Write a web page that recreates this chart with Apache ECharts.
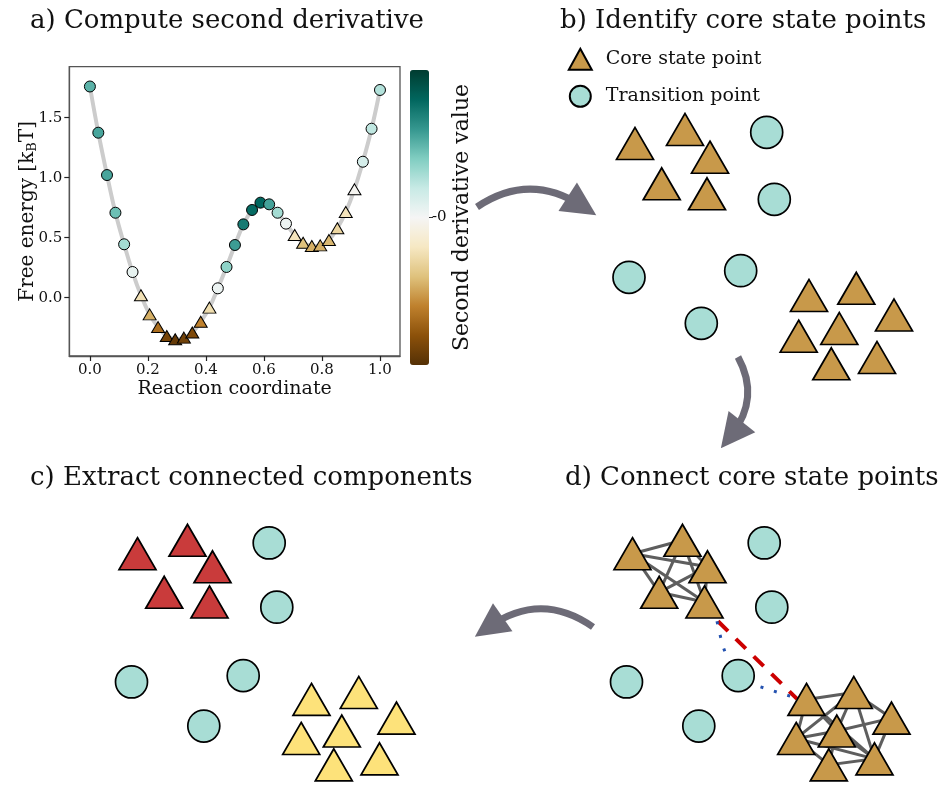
<!DOCTYPE html>
<html>
<head>
<meta charset="utf-8">
<script src="https://cdn.jsdelivr.net/npm/echarts@6/dist/echarts.min.js"></script>
<style>html,body{margin:0;padding:0;background:#fff}#c{width:946px;height:790px}</style>
</head>
<body>
<div id="c"></div>
<script>
// ---------- Panel a data ----------
const reactionCoord = [0.000,0.029,0.059,0.088,0.118,0.147,0.176,0.206,0.235,0.265,0.294,0.324,0.353,0.382,0.412,0.441,0.471,0.500,0.529,0.559,0.588,0.618,0.647,0.676,0.706,0.735,0.765,0.794,0.824,0.853,0.882,0.912,0.941,0.971,1.000];
const freeEnergy = [1.76,1.375,1.022,0.708,0.445,0.214,0.02,-0.139,-0.245,-0.319,-0.347,-0.333,-0.29,-0.2,-0.083,0.078,0.256,0.439,0.611,0.731,0.792,0.778,0.708,0.617,0.522,0.458,0.431,0.436,0.481,0.578,0.714,0.903,1.133,1.408,1.731];
const secondDeriv = [0.5,0.55,0.55,0.45,0.3,0.06,-0.24,-0.46,-0.68,-0.88,-0.94,-0.9,-0.85,-0.6,-0.26,0.04,0.36,0.58,0.72,0.78,0.8,0.56,0.3,0.04,-0.22,-0.4,-0.46,-0.46,-0.43,-0.3,-0.22,-0.02,0.14,0.22,0.26];
const xTicks = [0, 0.2, 0.4, 0.6, 0.8, 1.0];
const yTicks = [0, 0.5, 1.0, 1.5];
const BrBG = ['#543005','#8c510a','#bf812d','#dfc27d','#f6e8c3','#f5f5f5','#c7eae5','#80cdc1','#35978f','#01665e','#003c30'];

// ---------- Panels b, c, d data (schematic point positions) ----------
const corePoints = [[75,43.5],[125,29.5],[150,57.2],[101.7,83.8],[147,93.8],
  [249,195.5],[296.3,188.3],[334,215],[238.7,236.2],[279.3,228.5],[317,257.5],[271.3,263.8]];
const coreCluster = [0,0,0,0,0,1,1,1,1,1,1,1];
const clusterColors = ['#c93b3b','#fde27a'];
const transitionPoints = [[206.7,32.3],[214.3,99.3],[69,177.3],[180.7,170.7],[141.3,223.3]];
const coreEdges = [[0,1],[0,2],[0,3],[0,4],[1,2],[1,3],[1,4],[2,3],[2,4],[3,4],
  [5,6],[5,8],[5,9],[6,8],[6,10],[6,7],[6,9],[7,10],[7,9],[8,10],[8,9],[8,11],[9,10],[11,10],[9,11],[5,10]];
const directPath = [[160.5,114],[239.5,195]];
const transitionPath = [[159.5,114],[164.5,137],[167.5,146],[180.7,170.7],[195.5,180],[235.5,193]];
const arrows = [
  {from:[477,207], to:[582,206], curve:0.33},
  {from:[738,357], to:[731.4,435], curve:0.33},
  {from:[593,627], to:[488.8,627], curve:-0.35}
];

const SERIF = 'DejaVu Serif';
const chart = echarts.init(document.getElementById('c'), null, {renderer:'canvas'});

const hiddenX = (gi, max) => ({type:'value', gridIndex:gi, min:0, max:max, show:false});
const hiddenY = (gi, max) => ({type:'value', gridIndex:gi, min:0, max:max, inverse:true, show:false});

const coreStyle = {color:'#c8994a', borderColor:'#000', borderWidth:1.7, opacity:1};
const transStyle = {color:'#a8ddd5', borderColor:'#000', borderWidth:1.7, opacity:1};

const option = {
  animation:false,
  backgroundColor:'#fff',
  title:[
    {text:'a) Compute second derivative', left:30, top:8},
    {text:'b) Identify core state points', left:560, top:8},
    {text:'c) Extract connected components', left:30, top:465},
    {text:'d) Connect core state points', left:565, top:465}
  ].map(t => Object.assign(t, {padding:0, textStyle:{fontFamily:SERIF, fontSize:26, fontWeight:'normal', color:'#111'}})),
  legend:{
    data:['Core state point','Transition point'],
    orient:'vertical', left:567.8, top:47.8, padding:0,
    itemWidth:23, itemHeight:21, itemGap:14, selectedMode:false,
    textStyle:{fontFamily:SERIF, fontSize:19, color:'#111', padding:[0,0,0,9]}
  },
  grid:[
    {left:69.3, top:66.7, width:330.7, height:289.3, show:true, borderColor:'#555', borderWidth:1.3, backgroundColor:'transparent'},
    {left:410, top:70, width:19, height:295},
    {left:560, top:100, width:380, height:290},
    {left:62.5, top:512, width:380, height:290},
    {left:557.5, top:512, width:380, height:290},
    {left:0, top:0, width:946, height:790}
  ],
  xAxis:[
    {type:'value', gridIndex:0, min:-0.071, max:1.069,
     axisLine:{show:true, onZero:false, lineStyle:{color:'#555', width:1.3}}, splitLine:{show:false},
     axisTick:{show:true, customValues:xTicks, length:5, lineStyle:{color:'#222', width:1.2}},
     axisLabel:{customValues:xTicks, formatter:v=>v.toFixed(1), fontFamily:SERIF, fontSize:15, color:'#111', margin:7},
     name:'Reaction coordinate', nameLocation:'middle', nameGap:24, nameMoveOverlap:false,
     nameTextStyle:{fontFamily:SERIF, fontSize:19, color:'#111'}},
    {type:'value', gridIndex:1, min:0, max:1, show:false},
    hiddenX(2,380), hiddenX(3,380), hiddenX(4,380), hiddenX(5,946)
  ],
  yAxis:[
    {type:'value', gridIndex:0, min:-0.486, max:1.925,
     axisLine:{show:true, onZero:false, lineStyle:{color:'#555', width:1.3}}, splitLine:{show:false},
     axisTick:{show:true, customValues:yTicks, length:5, lineStyle:{color:'#222', width:1.2}},
     axisLabel:{customValues:yTicks, formatter:v=>v.toFixed(1), fontFamily:SERIF, fontSize:15, color:'#111', margin:7},
     name:'Free energy [k{sub|B}T]', nameLocation:'middle', nameGap:30, nameRotate:90, nameMoveOverlap:false,
     nameTextStyle:{fontFamily:SERIF, fontSize:20, color:'#111',
       rich:{sub:{fontFamily:SERIF, fontSize:13, color:'#111', padding:[10,0,0,0]}}}},
    {type:'value', gridIndex:1, min:-1, max:1, position:'right',
     axisLine:{show:false, onZero:false}, splitLine:{show:false},
     axisTick:{show:true, customValues:[0], length:4, lineStyle:{color:'#333'}},
     axisLabel:{customValues:[0], formatter:()=>'-0', fontFamily:SERIF, fontSize:15, color:'#111', margin:3},
     name:'Second derivative value', nameLocation:'middle', nameGap:22, nameRotate:90, nameMoveOverlap:false,
     nameTextStyle:{fontFamily:SERIF, fontSize:22, color:'#111'}},
    hiddenY(2,290), hiddenY(3,290), hiddenY(4,290), hiddenY(5,790)
  ],
  visualMap:{
    type:'continuous', min:-1, max:1, dimension:2, seriesIndex:1,
    inRange:{color:BrBG}, calculable:false, hoverLink:false,
    left:410, top:70, itemWidth:19, itemHeight:295, padding:0, orient:'vertical'
  },
  series:[
    {type:'line', xAxisIndex:0, yAxisIndex:0, smooth:0.4, symbol:'none', z:1,
     lineStyle:{color:'#cccccc', width:4},
     data:reactionCoord.map((x,i)=>[x,freeEnergy[i]])},
    {type:'scatter', xAxisIndex:0, yAxisIndex:0, z:3,
     symbol:v=>v[2] < 0 ? 'triangle' : 'circle',
     symbolSize:v=>v[2] < 0 ? [13,11] : 11,
     itemStyle:{borderColor:'#000', borderWidth:1, opacity:1},
     data:reactionCoord.map((x,i)=>[x,freeEnergy[i],secondDeriv[i]])},
    // panel b
    {type:'scatter', name:'Core state point', xAxisIndex:2, yAxisIndex:2, z:3,
     symbol:'triangle', symbolSize:[37,32], itemStyle:coreStyle, data:corePoints},
    {type:'scatter', name:'Transition point', xAxisIndex:2, yAxisIndex:2, z:3,
     symbol:'circle', symbolSize:32, itemStyle:transStyle, data:transitionPoints},
    // panel d
    {type:'lines', coordinateSystem:'cartesian2d', xAxisIndex:4, yAxisIndex:4, z:1,
     lineStyle:{color:'#5e5e5e', width:3, opacity:1},
     data:coreEdges.map(e=>({coords:[corePoints[e[0]], corePoints[e[1]]]}))},
    {type:'lines', coordinateSystem:'cartesian2d', xAxisIndex:4, yAxisIndex:4, z:1,
     lineStyle:{color:'#cc0000', width:4, type:[14,11], opacity:1},
     data:[{coords:directPath}]},
    {type:'lines', coordinateSystem:'cartesian2d', xAxisIndex:4, yAxisIndex:4, z:1, polyline:true,
     lineStyle:{color:'#2452b0', width:3, type:[3,11], opacity:1},
     data:[{coords:transitionPath}]},
    {type:'scatter', name:'core-d', xAxisIndex:4, yAxisIndex:4, z:3,
     symbol:'triangle', symbolSize:[37,32], itemStyle:coreStyle, data:corePoints},
    {type:'scatter', name:'trans-d', xAxisIndex:4, yAxisIndex:4, z:3,
     symbol:'circle', symbolSize:32, itemStyle:transStyle, data:transitionPoints},
    // panel c
    {type:'scatter', name:'core-c', xAxisIndex:3, yAxisIndex:3, z:3,
     symbol:'triangle', symbolSize:[37,32],
     itemStyle:{color:p=>clusterColors[p.value[2]], borderColor:'#000', borderWidth:1.7, opacity:1},
     data:corePoints.map((p,i)=>[p[0],p[1],coreCluster[i]])},
    {type:'scatter', name:'trans-c', xAxisIndex:3, yAxisIndex:3, z:3,
     symbol:'circle', symbolSize:32, itemStyle:transStyle, data:transitionPoints},
    // arrows
    {type:'lines', coordinateSystem:'cartesian2d', xAxisIndex:5, yAxisIndex:5, z:2,
     symbol:['none','triangle'], symbolSize:[0,34],
     lineStyle:{color:'#6d6b77', width:7, opacity:1},
     data:arrows.map(a=>({coords:[a.from,a.to], lineStyle:{curveness:a.curve}}))}
  ]
};
chart.setOption(option);
</script>
</body>
</html>
